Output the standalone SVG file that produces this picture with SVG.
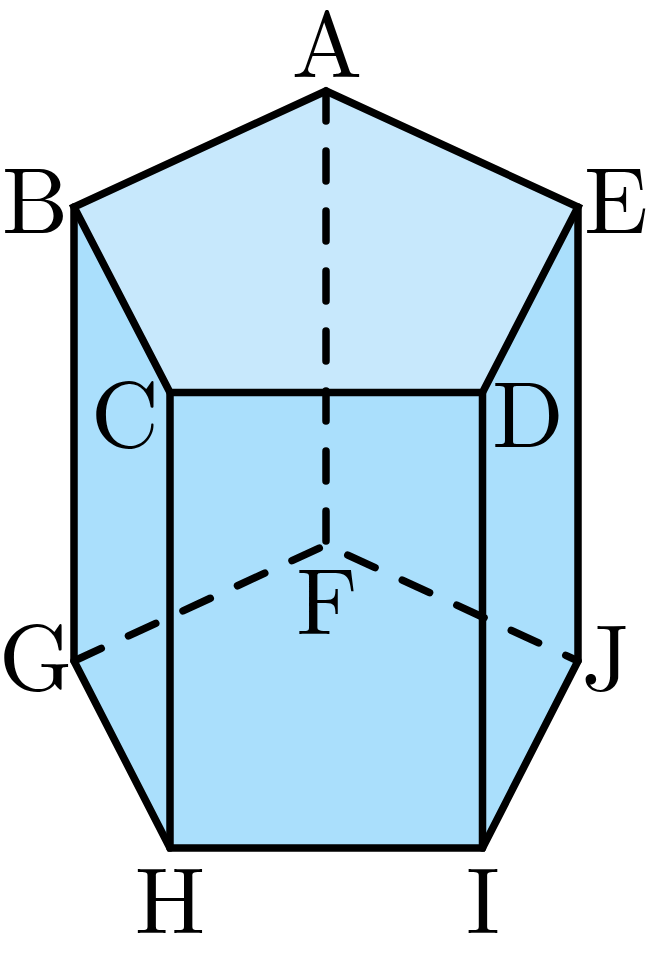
<svg xmlns="http://www.w3.org/2000/svg" width="649" height="963" viewBox="0 0 649 963">
<style>
.e{fill:none;stroke:#000;stroke-width:7.500;stroke-linejoin:miter;stroke-linecap:round}
.d{fill:none;stroke:#000;stroke-width:7.500;stroke-dasharray:30 30;stroke-linecap:round}
.o{stroke-dashoffset:36}
.l{font-family:"Latin Modern Roman","Liberation Serif",serif;font-size:94px;fill:#000;text-anchor:middle}
</style>
<rect width="649" height="963" fill="#fff"/>
<g id="faces">
<path d="M74 207H578V661L482.500 848H170L74 661Z" fill="#aadffc"/>
<path d="M326 91L578 207L482.500 392.500H170L74 207Z" fill="#c7e8fc"/>
</g>
<g id="connectors">
<path class="d" d="M326 91V546"/>
<path class="d" d="M74 661L326 545"/>
<path class="d o" d="M326 545L578 661"/>
<path class="e" d="M326 91L578 207L482.500 392.500H170L74 207Z"/>
<path class="e" d="M74 207V661L170 848H482.500L578 661V207"/>
<path class="e" d="M170 392.500V848M482.500 392.500V848"/>
</g>
<g id="A"><text class="l" x="327" y="77">A</text></g>
<g id="B"><text class="l" x="35" y="233">B</text></g>
<g id="C"><text class="l" x="125" y="447">C</text></g>
<g id="D"><text class="l" x="528" y="447">D</text></g>
<g id="E"><text class="l" x="616" y="233">E</text></g>
<g id="F"><text class="l" x="327" y="634">F</text></g>
<g id="G"><text class="l" x="36" y="690">G</text></g>
<g id="H"><text class="l" x="170" y="933">H</text></g>
<g id="I"><text class="l" x="483" y="933">I</text></g>
<g id="J"><text class="l" x="606" y="690">J</text></g>
</svg>
